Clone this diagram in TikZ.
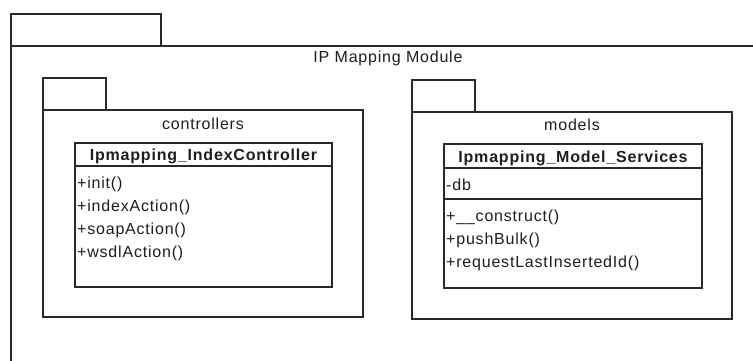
\documentclass[tikz,border=0pt]{standalone}
\usepackage{fontspec}
\setmainfont{Liberation Sans}[LetterSpace=5]
\definecolor{linec}{RGB}{40,40,40}
\definecolor{textc}{RGB}{30,30,30}
\begin{document}
\begin{tikzpicture}[x=1pt,y=-1pt,
  frame/.style={draw=linec, line width=1.4pt},
  classbox/.style={draw=linec, line width=1.4pt, fill=white},
  title/.style={anchor=base, inner sep=0pt, text=textc, font=\fontsize{16}{19}\selectfont},
  classname/.style={anchor=base, inner sep=0pt, text=textc, font=\fontsize{16}{19}\selectfont\bfseries},
  member/.style={anchor=base west, inner sep=0pt, text=textc, font=\fontsize{16}{19}\selectfont}]
\useasboundingbox (0,0) rectangle (753,361);
\fill[white] (0,0) rectangle (753,361);
\clip (0,0) rectangle (753,361);

% outer package: IP Mapping Module (runs past the page edges)
\draw[frame] (11,14) rectangle (161,46);
\draw[frame] (11,46) rectangle (780,390);
\node[title] (module) at (388,63) {IP Mapping Module};

% package: controllers
\draw[frame] (43,78) rectangle (106,110);
\draw[frame] (43,110) rectangle (363,317);
\node[title] (ctrlpkg) at (203,129) {controllers};

% class Ipmapping_IndexController
\draw[classbox] (75,143) rectangle (332,287);
\draw[frame] (75,166) -- (332,166);
\node[classname] (ctrlname) at (203.5,160) {Ipmapping\_IndexController};
\node[member] (m1) at (77,188) {+init()};
\node[member] (m2) at (77,211) {+indexAction()};
\node[member] (m3) at (77,234) {+soapAction()};
\node[member] (m4) at (77,257) {+wsdlAction()};

% package: models
\draw[frame] (412,80) rectangle (475,112);
\draw[frame] (412,112) rectangle (732,319);
\node[title] (modpkg) at (572,131) {models};

% class Ipmapping_Model_Services
\draw[classbox] (444,144) rectangle (702,288);
\draw[frame] (444,168) -- (702,168);
\draw[frame] (444,199) -- (702,199);
\node[classname] (modname) at (573,162) {Ipmapping\_Model\_Services};
\node[member] (a1) at (446,190) {-db};
\node[member] (s1) at (446,221) {+\_\_construct()};
\node[member] (s2) at (446,244) {+pushBulk()};
\node[member] (s3) at (446,267) {+requestLastInsertedId()};
\end{tikzpicture}
\end{document}
